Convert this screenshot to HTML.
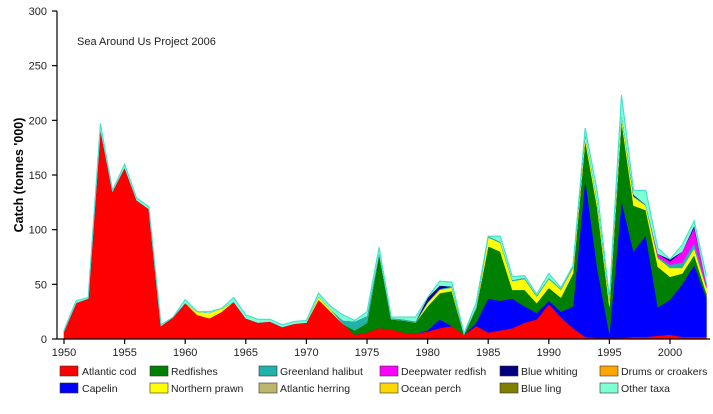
<!DOCTYPE html>
<html><head><meta charset="utf-8"><style>
body{margin:0;background:#fff;width:713px;height:409px;overflow:hidden}
svg text{font-family:"Liberation Sans",Arial,sans-serif;fill:#222}
</style></head><body>
<svg id="s" width="713" height="409" xmlns="http://www.w3.org/2000/svg">
<text x="77" y="45" font-size="11">Sea Around Us Project 2006</text>
<text transform="translate(23,175) rotate(-90)" text-anchor="middle" font-size="12.5" font-weight="bold" style="fill:#000">Catch (tonnes '000)</text>
<g id="areas"></g>
<g id="axes" stroke="#000" stroke-width="1.2"></g>
<g id="lab" font-size="11"></g>
<g font-size="10.5">
<rect x="60" y="366" width="18" height="10" fill="#f00" stroke="#333" stroke-width=".6"/><text x="82" y="375">Atlantic cod</text>
<rect x="150" y="366" width="18" height="10" fill="#008000" stroke="#333" stroke-width=".6"/><text x="171" y="375">Redfishes</text>
<rect x="259" y="366" width="18" height="10" fill="#20b2aa" stroke="#333" stroke-width=".6"/><text x="280" y="375">Greenland halibut</text>
<rect x="380" y="366" width="18" height="10" fill="#f0f" stroke="#333" stroke-width=".6"/><text x="401" y="375">Deepwater redfish</text>
<rect x="500" y="366" width="18" height="10" fill="#000080" stroke="#333" stroke-width=".6"/><text x="521" y="375">Blue whiting</text>
<rect x="600" y="366" width="18" height="10" fill="#ffa500" stroke="#333" stroke-width=".6"/><text x="621" y="375">Drums or croakers</text>
<rect x="60" y="383" width="18" height="10" fill="#00f" stroke="#333" stroke-width=".6"/><text x="82" y="392">Capelin</text>
<rect x="150" y="383" width="18" height="10" fill="#ff0" stroke="#333" stroke-width=".6"/><text x="171" y="392">Northern prawn</text>
<rect x="259" y="383" width="18" height="10" fill="#bdb76b" stroke="#333" stroke-width=".6"/><text x="280" y="392">Atlantic herring</text>
<rect x="380" y="383" width="18" height="10" fill="#ffd700" stroke="#333" stroke-width=".6"/><text x="401" y="392">Ocean perch</text>
<rect x="500" y="383" width="18" height="10" fill="#808000" stroke="#333" stroke-width=".6"/><text x="521" y="392">Blue ling</text>
<rect x="600" y="383" width="18" height="10" fill="#7fffd4" stroke="#333" stroke-width=".6"/><text x="621" y="392">Other taxa</text>
</g>
</svg>
<script>
var N=54;
function X(i){return 64+i*12.12}
function Y(v){return 339-v*1.0933}
var cod=[7,33,37,192,135,157,127,119,12,20,33,22,19,25,34,19,15,16,11,14,15,36,25,14,4,6,10,9,6,5,7,10,12,4,12,6,8,10,15,18,32,20,10,2,1,1,1,2,2,3,4,2,2,2];
var capP=[5,8,18,10,4,15,37,35,37,30,24,35,25,30,147,65,5,127,80,95,29,36,50,68,38];
var grnP=[14,8,15,78,18,17,15,30,42,44,4,28,85,80,45,45,33,47,38,60,182,120,30,200,122,118,66,57,60,77,42];
var tot=[8,35,38,197,136,160,129,121,13,20,36,25,25,28,38,22,18,18,13,16,17,42,30,22,17,25,84,20,20,20,38,53,52,5,33,94,94,57,58,41,60,47,67,193,135,38,223,136,136,83,73,86,108,58];
function z(){var a=[];for(var i=0;i<N;i++)a.push(0);return a}
var cap=z(),grn=z(),yel=z(),tea=z(),mag=z(),nav=z();
for(var i=0;i<25;i++)cap[29+i]=capP[i];
for(var i=0;i<31;i++)grn[23+i]=grnP[i];
var yv={11:3,12:5,13:3,21:3,22:2,30:3,31:3,32:3,35:8,36:8,37:8,38:10,39:6,40:8,41:7,42:5,43:5,44:5,45:5,46:5,47:8,48:4,49:8,50:8,51:5,52:6,53:5};
for(var k in yv)yel[k]=yv[k];
for(var i=23;i<N;i++)tea[i]=1;tea[23]=3;tea[24]=8;tea[25]=6;tea[50]=3;tea[51]=5;tea[52]=5;
var mv={49:3,50:3,51:10,52:14,53:3};for(var k in mv)mag[k]=mv[k];
var nv={30:4,31:3,47:1,50:2,52:2};for(var k in nv)nav[k]=nv[k];
var layers=[],prev=z();
function push(top,col){var t=[];for(var i=0;i<N;i++)t.push(Math.max(prev[i],top[i]));layers.push([prev,t,col]);prev=t}
push(cod,"#f00");
push(cap,"#00f");
push(grn,"#008000");
var a=prev.map(function(v,i){return v+yel[i]});push(a,"#ff0");
a=prev.map(function(v,i){return v+tea[i]});push(a,"#20b2aa");
a=prev.map(function(v,i){return v+mag[i]});push(a,"#f0f");
a=prev.map(function(v,i){return v+nav[i]});push(a,"#000080");
push(tot,"#7fffd4");
var g=document.getElementById("areas"),h="";
layers.forEach(function(L){var b=L[0],t=L[1],p=[];
for(var i=0;i<N;i++)p.push(X(i).toFixed(1)+","+Y(t[i]).toFixed(1));
for(var i=N-1;i>=0;i--)p.push(X(i).toFixed(1)+","+Y(b[i]).toFixed(1));
h+='<polygon points="'+p.join(" ")+'" fill="'+L[2]+'" stroke="'+L[2]+'" stroke-width="0.6" stroke-linejoin="round"/>';});
var tl=[];for(var i=0;i<N;i++)tl.push(X(i).toFixed(1)+","+Y(tot[i]).toFixed(1));
h+='<polyline points="'+tl.join(" ")+'" fill="none" stroke="#40e0d0" stroke-width="1.1"/>';
g.innerHTML=h;
var ax='<line x1="57" y1="11" x2="57" y2="339"/><line x1="57" y1="339" x2="710" y2="339"/>',lb="";
for(var v=0;v<=300;v+=50){var y=Y(v);ax+='<line x1="52" y1="'+y+'" x2="57" y2="'+y+'"/>';lb+='<text x="47" y="'+(y+4)+'" text-anchor="end">'+v+'</text>';}
for(var yr=1950;yr<=2000;yr+=5){var x=X(yr-1950);ax+='<line x1="'+x+'" y1="339" x2="'+x+'" y2="344"/>';lb+='<text x="'+x+'" y="356" text-anchor="middle">'+yr+'</text>';}
document.getElementById("axes").innerHTML=ax;document.getElementById("lab").innerHTML=lb;
</script>
</body></html>
